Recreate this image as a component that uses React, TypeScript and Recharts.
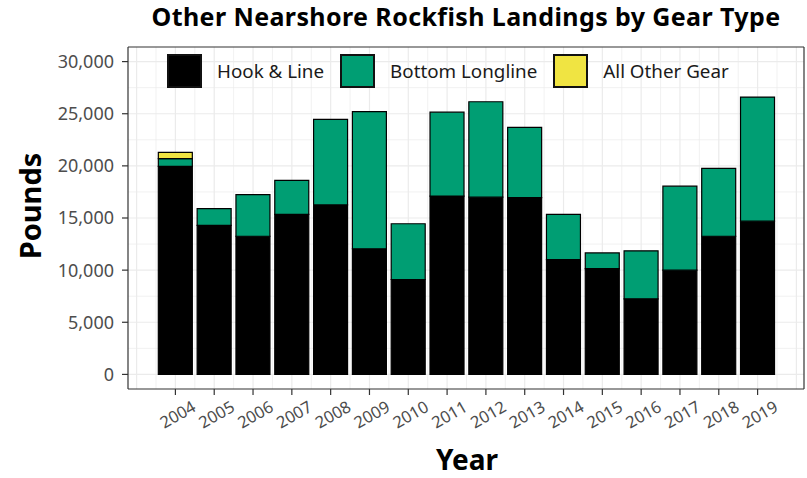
import React from "react"
import { BarChart, Bar, XAxis, YAxis, CartesianGrid, Legend } from "recharts"

// pounds landed per year
const years = ["2004", "2005", "2006", "2007", "2008", "2009", "2010", "2011", "2012", "2013", "2014", "2015", "2016", "2017", "2018", "2019"]
const hookLine = [19950, 14300, 13250, 15350, 16250, 12050, 9100, 17100, 17000, 16950, 11000, 10150, 7250, 10000, 13250, 14700]
const bottomLongline = [750, 1600, 4000, 3250, 8200, 13150, 5350, 8050, 9150, 6750, 4350, 1500, 4600, 8050, 6500, 11900]
const otherGear = [600, 0, 0, 0, 0, 0, 0, 0, 0, 0, 0, 0, 0, 0, 0, 0]

const seriesNames = ["Hook & Line", "Bottom Longline", "All Other Gear"]
const seriesColors = ["#000000", "#009E73", "#F0E442"]

const yTicks = [0, 5000, 10000, 15000, 20000, 25000, 30000]
const yMinor = [2500, 7500, 12500, 17500, 22500, 27500]
const yDomain = [-1400, 31400]

const X_PAD = { left: 28, right: 27 }

const data = years.map((year, i) => ({
  year,
  hook: hookLine[i],
  bottom: bottomLongline[i],
  other: otherGear[i],
}))

const FONT = "'Noto Sans', 'Open Sans', sans-serif"
const GRID = "#ebebeb"
const BORDER = "#333333"

const fmt = (v: number) => v.toLocaleString("en-US")

const yPoints = (values: number[]) => (props: any) => {
  const s = props?.yAxis?.scale
  if (typeof s === "function") return values.map((v) => s(v))
  const { top, height } = props.offset
  return values.map((v) => top + (height * (yDomain[1] - v)) / (yDomain[1] - yDomain[0]))
}

// grid at every year (major) and at every half year (minor), like the original
const xPoints = (which: "major" | "minor") => (props: any) => {
  const s = props?.xAxis?.scale
  let start: number
  let bw: number
  if (typeof s === "function" && Number.isFinite(s(years[0])) && Number.isFinite(s(years[1]))) {
    bw = typeof s.bandwidth === "function" ? s.bandwidth() : s(years[1]) - s(years[0])
    start = s(years[0])
  } else {
    const { left, width } = props.offset
    bw = (width - X_PAD.left - X_PAD.right) / years.length
    start = left + X_PAD.left
  }
  const centers = years.map((_, i) => start + bw * (i + 0.5))
  if (which === "major") return [centers[0] - bw, ...centers, centers[centers.length - 1] + bw]
  return [centers[0] - bw / 2, ...centers.map((c) => c + bw / 2)]
}

const XTick = (props: any) => {
  const { x, y, payload } = props
  return (
    <g transform={`translate(${x},${y})`}>
      <text
        transform="translate(2,19) rotate(-30)"
        textAnchor="middle"
        dominantBaseline="central"
        fill="#4d4d4d"
        fontSize={16.5}
        fontFamily={FONT}
      >
        {payload.value}
      </text>
    </g>
  )
}

const renderLegend = () => (
  <div style={{ display: "flex", alignItems: "center", fontFamily: FONT }}>
    {seriesNames.map((name, i) => (
      <div key={name} style={{ display: "flex", alignItems: "center", marginRight: 16 }}>
        <div
          style={{
            boxSizing: "border-box",
            width: 35,
            height: 34,
            background: seriesColors[i],
            border: "2px solid #111",
            marginRight: 15,
          }}
        />
        <span style={{ fontSize: 18.8, color: "#1a1a1a" }}>{name}</span>
      </div>
    ))}
  </div>
)

export default function App() {
  return (
    <div style={{ position: "absolute", left: 0, top: 0, width: 807, height: 478, background: "#fff" }}>
      <BarChart
        width={807}
        height={478}
        data={data}
        margin={{ top: 46, right: 2, bottom: 29, left: 0 }}
        barCategoryGap="6%"
      >
        <CartesianGrid
          stroke={GRID}
          strokeWidth={0.7}
          horizontalCoordinatesGenerator={yPoints(yMinor)}
          verticalCoordinatesGenerator={xPoints("minor")}
        />
        <CartesianGrid
          stroke={GRID}
          strokeWidth={1.2}
          horizontalCoordinatesGenerator={yPoints(yTicks)}
          verticalCoordinatesGenerator={xPoints("major")}
        />
        <XAxis
          dataKey="year"
          height={60}
          padding={X_PAD}
          interval={0}
          tickSize={6}
          tickMargin={0}
          tickLine={{ stroke: BORDER, strokeWidth: 1.2 }}
          axisLine={{ stroke: BORDER, strokeWidth: 1.2 }}
          tick={<XTick />}
        />
        <XAxis
          xAxisId="top"
          dataKey="year"
          orientation="top"
          height={1}
          padding={X_PAD}
          tick={false}
          tickLine={false}
          axisLine={{ stroke: BORDER, strokeWidth: 1.2 }}
        />
        <YAxis
          width={128}
          domain={yDomain}
          ticks={yTicks}
          allowDataOverflow
          tickFormatter={fmt}
          tickSize={6}
          tickMargin={8}
          tickLine={{ stroke: BORDER, strokeWidth: 1.2 }}
          axisLine={{ stroke: BORDER, strokeWidth: 1.2 }}
          tick={{ fill: "#4d4d4d", fontSize: 18, fontFamily: FONT }}
        />
        <YAxis
          yAxisId="right"
          orientation="right"
          width={1}
          type="number"
          domain={yDomain}
          allowDataOverflow
          tick={false}
          tickLine={false}
          axisLine={{ stroke: BORDER, strokeWidth: 1.2 }}
        />
        <Legend
          verticalAlign="middle"
          align="center"
          content={renderLegend}
          wrapperStyle={{ position: "absolute", top: 54, left: 167, width: "auto", height: "auto" }}
        />
        <Bar dataKey="hook" name={seriesNames[0]} stackId="g" fill={seriesColors[0]} stroke="#000" strokeWidth={1.2} isAnimationActive={false} />
        <Bar dataKey="bottom" name={seriesNames[1]} stackId="g" fill={seriesColors[1]} stroke="#000" strokeWidth={1.2} isAnimationActive={false} />
        <Bar dataKey="other" name={seriesNames[2]} stackId="g" fill={seriesColors[2]} stroke="#000" strokeWidth={1.2} isAnimationActive={false} />
      </BarChart>
      <svg width={807} height={478} style={{ position: "absolute", left: 0, top: 0, pointerEvents: "none" }}>
        <text x={466} y={26} textAnchor="middle" fontFamily={FONT} fontWeight={700} fontSize={25} letterSpacing={0.4} fill="#000">
          Other Nearshore Rockfish Landings by Gear Type
        </text>
        <text transform="translate(41,206) rotate(-90)" textAnchor="middle" fontFamily={FONT} fontWeight={700} fontSize={29} fill="#000">
          Pounds
        </text>
        <text x={467} y={470} textAnchor="middle" fontFamily={FONT} fontWeight={700} fontSize={28} fill="#000">
          Year
        </text>
      </svg>
    </div>
  )
}
